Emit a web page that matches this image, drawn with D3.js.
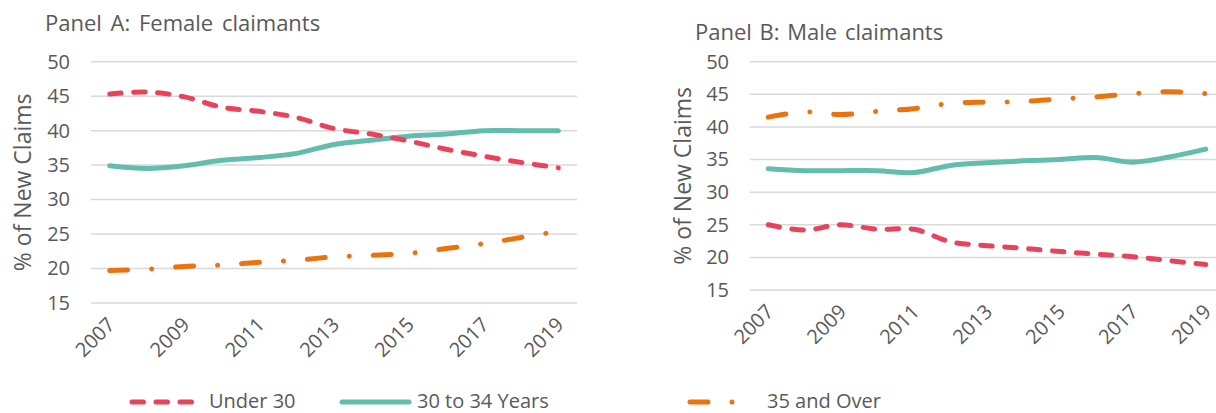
<!DOCTYPE html>
<html>
<head>
<meta charset="utf-8">
<script src="https://cdn.jsdelivr.net/npm/d3@7"></script>
<style>
  html, body { margin: 0; padding: 0; background: #fff; }
  svg { display: block; }
  text { font-family: "Open Sans", "Noto Sans", sans-serif; fill: #595959; }
</style>
</head>
<body>
<svg id="chart" width="1216" height="413"></svg>
<script>
// ---- Data ----
const years = [2007, 2008, 2009, 2010, 2011, 2012, 2013, 2014, 2015, 2016, 2017, 2018, 2019];
const xTickYears = [2007, 2009, 2011, 2013, 2015, 2017, 2019];
const yTicks = [15, 20, 25, 30, 35, 40, 45, 50];

const femaleUnder30 = [45.3, 45.6, 44.9, 43.4, 42.8, 41.9, 40.3, 39.5, 38.5, 37.3, 36.3, 35.4, 34.6];
const female30to34  = [34.9, 34.5, 34.9, 35.7, 36.1, 36.7, 38.0, 38.6, 39.2, 39.5, 40.0, 40.0, 40.0];
const female35plus  = [19.7, 19.9, 20.3, 20.5, 20.9, 21.2, 21.7, 21.9, 22.2, 22.9, 23.6, 24.5, 25.4];

const maleUnder30 = [25.0, 24.2, 25.0, 24.3, 24.3, 22.4, 21.8, 21.4, 20.9, 20.5, 20.1, 19.5, 18.9];
const male30to34  = [33.6, 33.3, 33.3, 33.3, 33.0, 34.1, 34.5, 34.8, 35.0, 35.3, 34.6, 35.4, 36.6];
const male35plus  = [41.5, 42.3, 41.9, 42.4, 42.8, 43.6, 43.8, 43.9, 44.3, 44.6, 45.1, 45.4, 45.1];

const seriesNames = ["Under 30", "30 to 34 Years", "35 and Over"];

// ---- Styles ----
const styles = {
  "Under 30":       { color: "#E8435A", dash: "11.5,12.5" },
  "30 to 34 Years": { color: "#63BCAE", dash: null },
  "35 and Over":    { color: "#E9730F", dash: "18,24,0.01,24" }
};
const lineWidth = 5;

const svg = d3.select("#chart");

const panels = [
  {
    title: "Panel  A: Female  claimants", titleX: 45, titleY: 31, titleSize: 22, titleWs: 3,
    left: 91, right: 577, top: 61.7, bottom: 303, yTitleX: 31,
    data: { "Under 30": femaleUnder30, "30 to 34 Years": female30to34, "35 and Over": female35plus }
  },
  {
    title: "Panel  B:  Male  claimants", titleX: 695, titleY: 40, titleSize: 22, titleWs: 2,
    left: 750, right: 1224, top: 61.7, bottom: 290, yTitleX: 691,
    data: { "Under 30": maleUnder30, "30 to 34 Years": male30to34, "35 and Over": male35plus }
  }
];

panels.forEach(p => {
  const g = svg.append("g");
  const x = d3.scalePoint().domain(years).range([p.left, p.right]).padding(0.5);
  const y = d3.scaleLinear().domain([15, 50]).range([p.bottom, p.top]);

  // gridlines
  g.append("g")
    .selectAll("line").data(yTicks).join("line")
    .attr("x1", p.left).attr("x2", p.right)
    .attr("y1", d => y(d)).attr("y2", d => y(d))
    .attr("stroke", "#D9D9D9").attr("stroke-width", 1.5);

  // y axis (labels only)
  const yAxis = d3.axisLeft(y).tickValues(yTicks).tickSize(0).tickPadding(21);
  const ya = g.append("g").attr("transform", `translate(${p.left},0)`).call(yAxis);
  ya.select(".domain").remove();
  ya.selectAll("text").style("font-size", "20px").attr("fill", "#595959");

  // x axis (labels only, rotated)
  const xAxis = d3.axisBottom(x).tickValues(xTickYears).tickSize(0).tickFormat(d3.format("d"));
  const xa = g.append("g").attr("transform", `translate(0,${p.bottom})`).call(xAxis);
  xa.select(".domain").remove();
  xa.selectAll("text")
    .style("font-size", "20px").attr("fill", "#595959")
    .attr("text-anchor", "end")
    .attr("dy", null).attr("y", 0)
    .attr("transform", "translate(6,23) rotate(-45)");

  // y title
  g.append("text")
    .attr("transform", `translate(${p.yTitleX},${(p.top + p.bottom) / 2}) rotate(-90)`)
    .attr("text-anchor", "middle")
    .style("font-size", "23px")
    .text("% of New Claims");

  // title
  g.append("text")
    .attr("x", p.titleX).attr("y", p.titleY)
    .style("font-size", p.titleSize + "px")
    .style("word-spacing", p.titleWs + "px")
    .text(p.title);

  // lines
  const line = d3.line()
    .x((d, i) => x(years[i]))
    .y(d => y(d))
    .curve(d3.curveCatmullRom.alpha(0.5));

  ["35 and Over", "30 to 34 Years", "Under 30"].forEach(name => {
    const st = styles[name];
    g.append("path")
      .datum(p.data[name])
      .attr("d", line)
      .attr("fill", "none")
      .attr("stroke", st.color)
      .attr("stroke-width", lineWidth)
      .attr("stroke-linecap", "round")
      .attr("stroke-linejoin", "round")
      .attr("stroke-dasharray", st.dash);
  });
});

// ---- Legend ----
const legendItems = [
  { name: "Under 30",       x1: 132, x2: 197, tx: 209 },
  { name: "30 to 34 Years", x1: 342, x2: 409, tx: 417 },
  { name: "35 and Over",    x1: 690, x2: 736, tx: 767 }
];
const legendY = 401;
const lg = svg.append("g");
legendItems.forEach(it => {
  const st = styles[it.name];
  lg.append("line")
    .attr("x1", it.x1).attr("x2", it.x2)
    .attr("y1", legendY + 1).attr("y2", legendY + 1)
    .attr("stroke", st.color)
    .attr("stroke-width", lineWidth)
    .attr("stroke-linecap", "round")
    .attr("stroke-dasharray", st.dash);
  lg.append("text")
    .attr("x", it.tx).attr("y", legendY)
    .attr("dy", "0.35em")
    .style("font-size", "20px")
    .text(it.name);
});
</script>
</body>
</html>
